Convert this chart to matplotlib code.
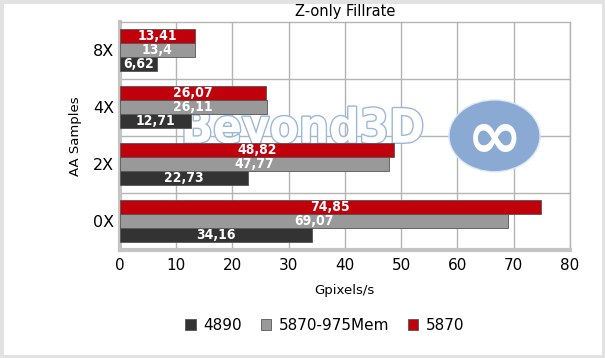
import matplotlib.pyplot as plt
import matplotlib.patheffects as pe
import numpy as np
from matplotlib.patches import Ellipse, Rectangle

# data (bottom to top)
categories = ['0X', '2X', '4X', '8X']
v_4890 = [34.16, 22.73, 12.71, 6.62]
v_975mem = [69.07, 47.77, 26.11, 13.4]
v_5870 = [74.85, 48.82, 26.07, 13.41]
series_names = ['4890', '5870-975Mem', '5870']
colors = ['#333333', '#999999', '#c0000b']

fig = plt.figure(figsize=(6.05, 3.58), dpi=100)
fig.patches.append(Rectangle((0, 0), 1, 1, transform=fig.transFigure,
                             fill=False, edgecolor='#e2e2e2', linewidth=5, zorder=10))
ax = fig.add_axes([0.198, 0.302, 0.744, 0.637])

y = np.arange(len(categories))
h = 0.245
offsets = [-h, 0, h]
for vals, off, col, name in zip([v_4890, v_975mem, v_5870], offsets, colors, series_names):
    bars = ax.barh(y + off, vals, height=h, color=col, edgecolor='#555555',
                   linewidth=0.6, label=name, zorder=3)
    for b, v in zip(bars, vals):
        ax.text(b.get_width() / 2, b.get_y() + b.get_height() / 2,
                str(v).replace('.', ','), ha='center', va='center',
                color='white', fontsize=10, fontweight='bold',
                family='DejaVu Sans', fontstretch='condensed', zorder=4)

ax.set_xlim(0, 80)
ax.set_ylim(-0.5, 3.5)
ax.set_xticks(range(0, 81, 10))
ax.set_yticks(y)
ax.set_yticklabels(categories, fontsize=11.5)
ax.tick_params(axis='x', labelsize=11, length=0, pad=6)
ax.tick_params(axis='y', length=0, pad=4)

for xv in range(10, 81, 10):
    ax.axvline(xv, color='#b4b4b4', linewidth=1, zorder=1)
for yv in [0.5, 1.5, 2.5]:
    ax.axhline(yv, color='#b4b4b4', linewidth=1, zorder=1)

for s in ['top', 'right']:
    ax.spines[s].set_color('#b4b4b4')
    ax.spines[s].set_linewidth(1)
for s in ['left', 'bottom']:
    ax.spines[s].set_color('#c4c4c4')
    ax.spines[s].set_linewidth(3)

# watermark (drawn behind the bars)
ax.text(32.5, 1.6, 'Beyond3D', ha='center', va='center', fontsize=34,
        fontweight='bold', fontstretch='condensed', color='white', zorder=2,
        path_effects=[pe.withStroke(linewidth=2, foreground='#9ab8da')])
ax.add_patch(Ellipse((66.6, 1.5), 16.2, 1.26, facecolor='#8aaad4',
                     edgecolor='#dde8f4', linewidth=1, zorder=2))
ax.text(66.6, 1.45, '\u221e', ha='center', va='center', fontsize=48,
        fontweight='bold', color='white', zorder=2)

ax.set_title('Z-only Fillrate', fontsize=10.5, pad=4)
ax.set_xlabel('Gpixels/s', fontsize=9.5, labelpad=8)
ax.set_ylabel('AA Samples', fontsize=9.5, labelpad=8)

fig.legend(loc='center', bbox_to_anchor=(0.537, 0.092), ncol=3, frameon=False,
           fontsize=11, handlelength=0.7, handleheight=0.7, handletextpad=0.5,
           columnspacing=1.2)

fig.savefig('out.png', dpi=100)
